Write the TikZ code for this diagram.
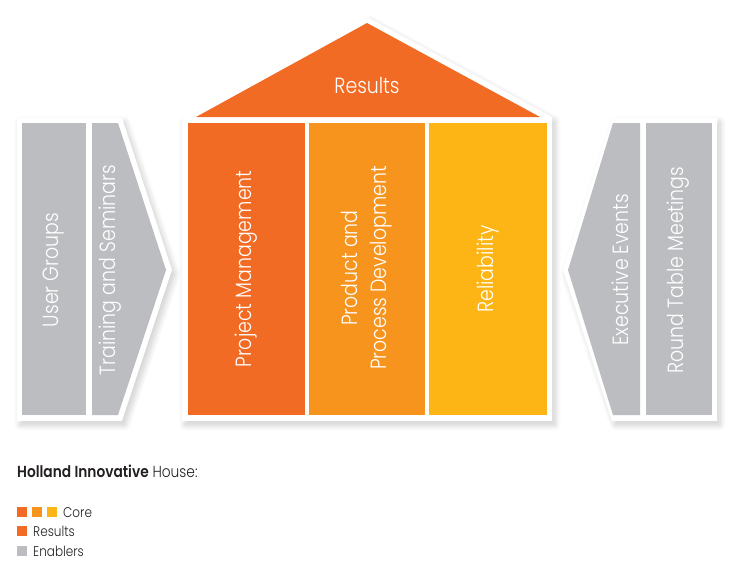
\documentclass[tikz,border=0pt]{standalone}
\usepackage{fontspec}
\setmainfont{Poppins}[UprightFont=* Light, BoldFont=* SemiBold, FakeStretch=0.86]
\usetikzlibrary{shadows.blur}
\definecolor{orA}{HTML}{F26B24}
\definecolor{orB}{HTML}{F7941E}
\definecolor{orC}{HTML}{FDB515}
\definecolor{gr}{HTML}{BCBDC0}
\definecolor{txt}{HTML}{231F20}
\tikzset{
  frame/.style={fill=white, draw=none, blur shadow={shadow xshift=3pt, shadow yshift=-4pt, shadow opacity=20, shadow blur steps=10, shadow blur radius=6pt}},
  vlabel/.style={text=white, rotate=90, font=\fontsize{22}{29}\selectfont, align=center, inner sep=0pt},
  leg/.style={text=txt, anchor=base west, inner sep=0pt, font=\fontsize{14}{16}\selectfont},
  sq/.style={inner sep=0pt, minimum size=10pt, anchor=north west}
}
\begin{document}
\begin{tikzpicture}[x=1pt, y=-1pt]
\useasboundingbox (0,0) rectangle (754,574);
% frames
\path[frame] (182,117) -- (367,17) -- (552,117) -- (552,421) -- (182,421) -- cycle;
\path[frame] (17,118) -- (122,118) -- (172,270) -- (122,421) -- (17,421) -- cycle;
\path[frame] (717,118) -- (612,118) -- (563,270) -- (612,421) -- (717,421) -- cycle;
% roof and core
\fill[orA] (196,117) -- (367,23) -- (540,117) -- cycle;
\fill[orA] (188,123) rectangle (305,415);
\fill[orB] (309,123) rectangle (425,415);
\fill[orC] (429,123) rectangle (547,415);
% enablers
\fill[gr] (22,123) rectangle (86,415);
\fill[gr] (92,123) -- (118,123) -- (166,270) -- (118,415) -- (92,415) -- cycle;
\fill[gr] (646,123) rectangle (712,415);
\fill[gr] (640,123) -- (613,123) -- (568,270) -- (613,415) -- (640,415) -- cycle;
% labels
\node[text=white, inner sep=0pt, font=\fontsize{22}{26}\selectfont] (res) at (367,85) {Results};
\node[vlabel] (pm) at (246,269) {Project Management};
\node[vlabel] (ppd) at (367,268) {Product and\\Process Development};
\node[vlabel] (rel) at (488,269) {Reliability};
\node[vlabel] (ug) at (54,270) {User Groups};
\node[vlabel] (ts) at (110,270) {Training and Seminars};
\node[vlabel] (ee) at (620,270) {Executive Events};
\node[vlabel] (rtm) at (678,270) {Round Table Meetings};
% legend
\node[leg, font=\fontsize{16}{18}\selectfont] (title) at (17,477) {\textbf{Holland Innovative} House:};
\node[sq, fill=orA] (c1) at (17,507) {};
\node[sq, fill=orB] (c2) at (32,507) {};
\node[sq, fill=orC] (c3) at (47,507) {};
\node[leg] (core) at (63,517) {Core};
\node[sq, fill=orA] (r1) at (17,526) {};
\node[leg] (resl) at (33,536) {Results};
\node[sq, fill=gr] (e1) at (17,546) {};
\node[leg] (enl) at (33,556) {Enablers};
\end{tikzpicture}
\end{document}
